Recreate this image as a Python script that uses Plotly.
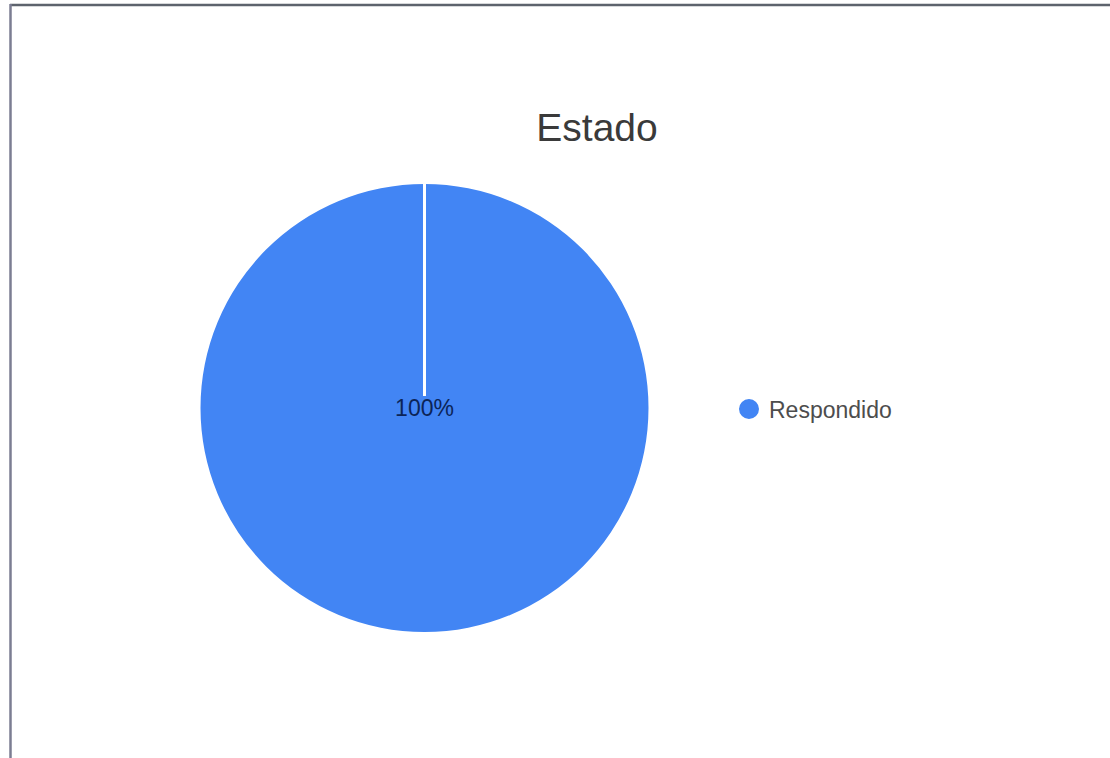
import plotly.graph_objects as go

labels = ["Respondido"]
values = [100]
colors = ["#4285f4"]
title_text = "Estado"

W, H = 1110, 758
# pie placement (pixels)
pie_left, pie_right, pie_top, pie_bottom = 200, 649, 184, 632

FONT = "Liberation Sans, Arial, sans-serif"


def px_x(p):
    return p / W


def px_y(p):
    return 1 - p / H


fig = go.Figure()
fig.add_trace(go.Pie(
    labels=labels, values=values,
    marker=dict(colors=colors, line=dict(color="white", width=0)),
    sort=False, direction="clockwise", rotation=0,
    textinfo="percent", texttemplate="%{percent:.0%}",
    textposition="inside", insidetextorientation="horizontal",
    textfont=dict(family=FONT, size=23, color="#0c2457"),
    domain=dict(x=[px_x(pie_left), px_x(pie_right)], y=[px_y(pie_bottom), px_y(pie_top)]),
    showlegend=False, hoverinfo="label+percent",
))
# legend entry with circle symbol
fig.add_trace(go.Scatter(
    x=[None], y=[None], mode="markers", name=labels[0],
    marker=dict(color=colors[0], size=16, symbol="circle", line=dict(color=colors[0], width=4)),
    showlegend=True,
))

cx = (pie_left + pie_right) / 2
shapes = [
    # slice boundary (start of the single slice)
    dict(type="line", xref="paper", yref="paper",
         x0=px_x(cx), x1=px_x(cx), y0=px_y(396), y1=px_y(pie_top) + 0.002,
         line=dict(color="white", width=3)),
    # outer frame lines
    dict(type="line", xref="paper", yref="paper", x0=px_x(10), x1=1, y0=px_y(5), y1=px_y(5),
         line=dict(color="#5d636d", width=2.5)),
    dict(type="line", xref="paper", yref="paper", x0=px_x(10.5), x1=px_x(10.5), y0=0, y1=px_y(4),
         line=dict(color="#7b7d92", width=2.5)),
]

fig.update_layout(
    width=W, height=H,
    margin=dict(l=0, r=0, t=0, b=0),
    paper_bgcolor="white", plot_bgcolor="white",
    title=dict(text=title_text, x=px_x(597), xanchor="center", y=px_y(127), yanchor="middle",
               font=dict(family=FONT, size=39, color="#3a3a3a")),
    xaxis=dict(visible=False), yaxis=dict(visible=False),
    legend=dict(x=px_x(729), xanchor="left", y=px_y(409), yanchor="middle",
                font=dict(family=FONT, size=23, color="#4d4d4d"),
                bgcolor="rgba(0,0,0,0)"),
    shapes=shapes,
)

fig.write_html("out.html", config={"displayModeBar": False},
               post_script="document.body.style.margin='0';")
